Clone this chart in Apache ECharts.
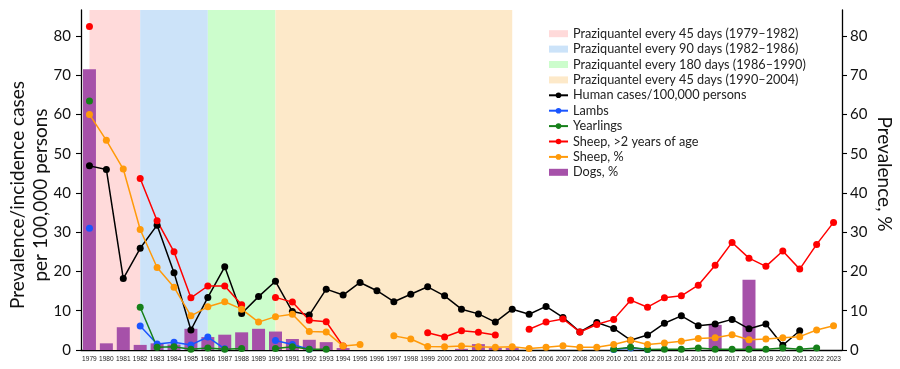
<!DOCTYPE html>
<html>
<head>
<meta charset="utf-8">
<script src="https://cdn.jsdelivr.net/npm/echarts@6/dist/echarts.min.js"></script>
<style>
html,body{margin:0;padding:0;background:#fff;}
#chart{width:900px;height:369px;}
</style>
</head>
<body>
<div id="chart"></div>
<script>
const years = ['1979','1980','1981','1982','1983','1984','1985','1986','1987','1988','1989','1990','1991','1992','1993','1994','1995','1996','1997','1998','1999','2000','2001','2002','2003','2004','2005','2006','2007','2008','2009','2010','2011','2012','2013','2014','2015','2016','2017','2018','2019','2020','2021','2022','2023'];

const humanCases = [46.9,46.0,18.2,25.9,31.8,19.7,5.1,13.4,21.2,9.3,13.6,17.5,9.8,8.9,15.5,14.0,17.2,15.1,12.3,14.2,16.1,13.8,10.4,9.2,7.1,10.4,9.1,11.1,8.3,4.6,7.0,5.5,2.5,3.8,6.8,8.7,6.2,6.6,7.8,5.4,6.6,1.2,4.9,null,null];

const lambs = [31.0,null,null,6.1,1.5,2.0,1.3,3.3,0.3,null,null,2.4,1.4,0.2,null,null,null,null,null,null,null,null,null,null,null,null,null,null,null,null,null,0.1,0.5,0.1,null,null,null,null,null,null,null,null,null,null,null];

const yearlings = [63.4,null,null,10.9,0.7,0.8,0.2,0.5,0.2,0.4,null,0.4,0.8,0.2,0.2,null,null,null,null,null,null,null,null,null,null,null,null,null,null,null,null,0.2,0.7,0.1,0.2,0.2,0.5,0.2,0.2,0.2,0.2,0.5,0.2,0.5,null];

const sheepOld = [82.4,null,null,43.7,32.9,25.0,13.3,16.3,16.3,11.5,null,13.4,12.2,7.6,7.2,1.0,null,null,null,null,4.4,3.3,4.9,4.5,3.8,null,5.3,7.1,7.9,4.6,6.5,7.8,12.7,10.9,13.3,13.8,16.5,21.6,27.4,23.4,21.3,25.2,20.6,26.9,32.5];

const sheepPct = [60.0,53.4,46.1,30.7,21.0,16.0,8.7,11.0,12.3,10.4,7.1,8.5,9.1,4.7,4.6,1.0,1.4,null,3.6,2.8,0.9,0.8,1.0,0.8,0.7,0.8,0.4,0.7,1.1,0.7,0.7,1.4,2.5,1.4,1.8,2.2,2.9,3.1,3.9,2.6,2.8,3.1,3.4,5.1,6.2];

const dogsPct = [71.5,1.7,5.8,1.3,1.7,1.4,5.4,3.3,3.9,4.5,5.4,4.7,2.8,2.6,2.0,0.5,null,null,null,null,null,null,0.3,1.5,0.5,0.5,null,null,null,null,null,null,null,null,null,null,null,6.4,null,17.9,null,null,null,null,null];

const periodNames = ['Praziquantel every 45 days (1979\u20131982)','Praziquantel every 90 days (1982\u20131986)','Praziquantel every 180 days (1986\u20131990)','Praziquantel every 45 days (1990\u20132004)'];
const periodStart = ['1979','1982','1986','1990'];
const periodEnd = ['1982','1986','1990','2004'];
const periodColors = ['#ffdada','#cce3f9','#ccfdcc','#fde9c9'];

const yTicks = [0,10,20,30,40,50,60,70,80];

const FONT = 'Lato, "Open Sans", sans-serif';
const chart = echarts.init(document.getElementById('chart'), null, {renderer:'canvas'});

const series = [];
periodNames.forEach((n,i)=>{
  series.push({
    name:n, type:'line', data:years.map(()=>null), z:0,
    color:periodColors[i], itemStyle:{color:periodColors[i]}, lineStyle:{color:periodColors[i]},
    silent:true,
    markArea:{silent:true, itemStyle:{color:periodColors[i], opacity:1}, label:{show:false},
      data:[[{xAxis:periodStart[i]},{xAxis:periodEnd[i]}]]}
  });
});
series.push({
  name:'Dogs, %', type:'bar', data:dogsPct, barWidth:13, z:1,
  itemStyle:{color:'#a651a9'}, color:'#a651a9'
});
function lineSeries(name, data, color){
  return {name, type:'line', data, color, showSymbol:true, showAllSymbol:true, symbol:'circle', symbolSize:7,
    connectNulls:false, lineStyle:{color, width:1.5}, itemStyle:{color}, z:3};
}
series.push(lineSeries('Human cases/100,000 persons', humanCases, '#000000'));
series.push(lineSeries('Lambs', lambs, '#1a55ff'));
series.push(lineSeries('Yearlings', yearlings, '#16801a'));
series.push(lineSeries('Sheep, >2 years of age', sheepOld, '#ff0000'));
series.push(lineSeries('Sheep, %', sheepPct, '#ff9a0a'));

const yAxisCommon = {
  type:'value', min:0, max:86.6, interval:10,
  splitLine:{show:false},
  axisLine:{show:true, lineStyle:{color:'#000', width:1.3}},
  axisTick:{show:true, length:5, lineStyle:{color:'#000', width:1.1}, customValues:yTicks},
  axisLabel:{fontSize:15, color:'#111', fontFamily:FONT, customValues:yTicks,
    formatter:v=> (Math.abs(v%10)<1e-6 ? String(v) : '')}
};

chart.setOption({
  animation:false,
  textStyle:{fontFamily:FONT},
  grid:{left:81, right:58, top:10, bottom:19, containLabel:false},
  legend:{
    orient:'vertical', left:543, top:21, itemWidth:19, itemHeight:7, itemGap:0,
    textStyle:{fontSize:12.7, color:'#222', fontFamily:FONT, lineHeight:15.4},
    data:[
      {name:periodNames[0], icon:'rect'},
      {name:periodNames[1], icon:'rect'},
      {name:periodNames[2], icon:'rect'},
      {name:periodNames[3], icon:'rect'},
      'Human cases/100,000 persons','Lambs','Yearlings','Sheep, >2 years of age','Sheep, %',
      {name:'Dogs, %', icon:'rect'}
    ],
    selectedMode:false
  },
  xAxis:{
    type:'category', data:years, boundaryGap:true,
    axisLine:{lineStyle:{color:'#000', width:1.3}},
    axisTick:{alignWithLabel:true, interval:0, length:4, lineStyle:{color:'#000'}},
    axisLabel:{interval:0, fontSize:6.6, color:'#222', margin:6, fontFamily:'"Liberation Sans", Arial, sans-serif'}
  },
  yAxis:[
    Object.assign({}, yAxisCommon, {position:'left', axisLabel:Object.assign({}, yAxisCommon.axisLabel, {margin:10})}),
    Object.assign({}, yAxisCommon, {position:'right', axisLabel:Object.assign({}, yAxisCommon.axisLabel, {margin:8})})
  ],
  graphic:[
    {type:'text', x:29, y:195, rotation:Math.PI/2,
      style:{text:'Prevalence/incidence cases\nper 100,000 persons', fontSize:19, lineHeight:23, fill:'#111',
        align:'center', verticalAlign:'middle', fontFamily:FONT}},
    {type:'text', x:884, y:174, rotation:-Math.PI/2,
      style:{text:'Prevalence, %', fontSize:19, fill:'#111', align:'center', verticalAlign:'middle', fontFamily:FONT}}
  ],
  series
});
</script>
</body>
</html>
